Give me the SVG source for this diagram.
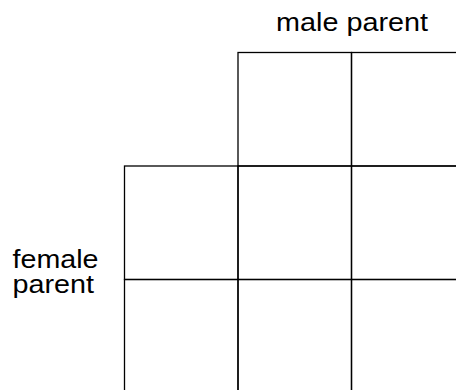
<svg xmlns="http://www.w3.org/2000/svg" width="456" height="390" viewBox="0 0 456 390">
  <style>
    .cell { fill: none; stroke: #000; stroke-width: 1.3; }
    .lbl { font-family: "Liberation Sans", Arial, Helvetica, sans-serif; font-size: 25px; fill: #000; }
  </style>
  <rect width="456" height="390" fill="#fff"/>
  <g id="label-male">
    <text class="lbl" x="276" y="31" textLength="152" lengthAdjust="spacingAndGlyphs">male parent</text>
  </g>
  <g id="label-female">
    <text class="lbl" x="12.5" y="268.3" textLength="86" lengthAdjust="spacingAndGlyphs">female</text>
    <text class="lbl" x="12.5" y="293.3" textLength="81.5" lengthAdjust="spacingAndGlyphs">parent</text>
  </g>
  <g id="cell-top-1"><rect class="cell" x="238" y="52.5" width="113.5" height="113.5"/></g>
  <g id="cell-top-2"><rect class="cell" x="351.5" y="52.5" width="113.5" height="113.5"/></g>
  <g id="cell-mid-0"><rect class="cell" x="124.5" y="166" width="113.5" height="113.5"/></g>
  <g id="cell-mid-1"><rect class="cell" x="238" y="166" width="113.5" height="113.5"/></g>
  <g id="cell-mid-2"><rect class="cell" x="351.5" y="166" width="113.5" height="113.5"/></g>
  <g id="cell-bot-0"><rect class="cell" x="124.5" y="279.5" width="113.5" height="113.5"/></g>
  <g id="cell-bot-1"><rect class="cell" x="238" y="279.5" width="113.5" height="113.5"/></g>
  <g id="cell-bot-2"><rect class="cell" x="351.5" y="279.5" width="113.5" height="113.5"/></g>
  <g id="connectors"></g>
</svg>
